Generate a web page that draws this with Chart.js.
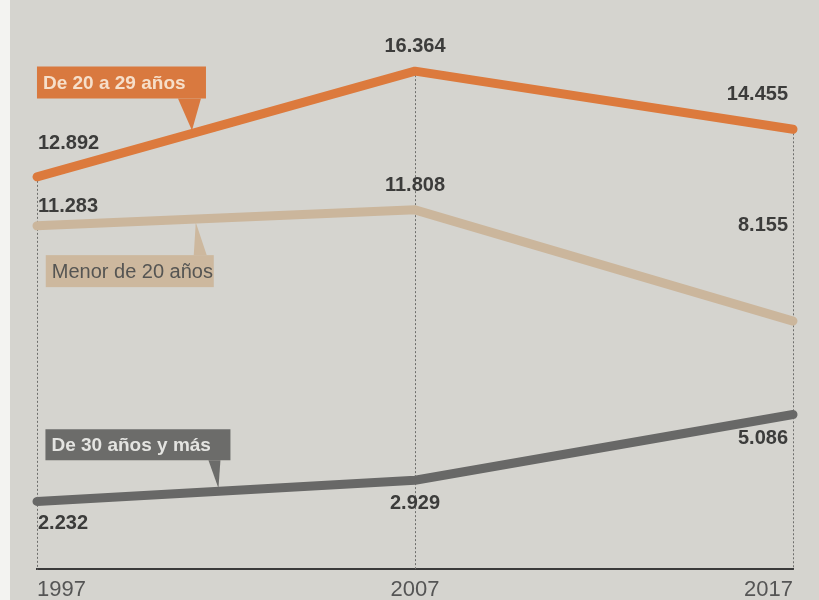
<!DOCTYPE html>
<html>
<head>
<meta charset="utf-8">
<script src="https://cdn.jsdelivr.net/npm/chart.js@4.4.1/dist/chart.umd.min.js"></script>
<style>
  html, body { margin: 0; padding: 0; background: #d5d4cf; overflow: hidden; }
  #wrap { width: 819px; height: 600px; position: relative; }
</style>
</head>
<body>
<div id="wrap"><canvas id="chart"></canvas></div>
<script>
// datos
const years = ['1997', '2007', '2017'];
const de20a29 = [12892, 16364, 14455];
const menor20 = [11283, 11808, 8155];
const de30mas = [2232, 2929, 5086];
const seriesNames = ['De 20 a 29 años', 'Menor de 20 años', 'De 30 años y más'];

const fmt = v => String(v).replace(/\B(?=(\d{3})+(?!\d))/g, '.');
const FONT = '"Liberation Sans", Arial, sans-serif';

// fondo de papel
const paper = {
  id: 'paper',
  beforeDraw(chart) {
    const ctx = chart.ctx;
    ctx.save();
    ctx.fillStyle = '#d5d4cf';
    ctx.fillRect(0, 0, chart.width, chart.height);
    ctx.fillStyle = '#f3f3f1';
    ctx.fillRect(0, 0, 10, chart.height);
    ctx.restore();
  }
};

// líneas punteadas verticales desde el punto más alto hasta el eje
const dotted = {
  id: 'dotted',
  beforeDatasetsDraw(chart) {
    const ctx = chart.ctx, x = chart.scales.x, y = chart.scales.y;
    ctx.save();
    ctx.strokeStyle = '#6e6e6c';
    ctx.lineWidth = 1;
    ctx.setLineDash([2, 2]);
    years.forEach((_, i) => {
      const top = Math.max(...chart.data.datasets.map(d => d.data[i]));
      const px = x.getPixelForValue(i);
      ctx.beginPath();
      ctx.moveTo(px + 0.5, y.getPixelForValue(top));
      ctx.lineTo(px + 0.5, chart.chartArea.bottom);
      ctx.stroke();
    });
    ctx.restore();
  }
};

// etiquetas de valores
const valueOffsets = [[-33, -25, -35], [-19, -24, -96], [22, 23, 24]];
const valueLabels = {
  id: 'valueLabels',
  afterDatasetsDraw(chart) {
    const ctx = chart.ctx;
    ctx.save();
    ctx.font = 'bold 20px ' + FONT;
    ctx.fillStyle = '#3c3c3b';
    ctx.textBaseline = 'middle';
    chart.data.datasets.forEach((ds, di) => {
      chart.getDatasetMeta(di).data.forEach((pt, i) => {
        let px = pt.x;
        if (i === 0) { ctx.textAlign = 'left'; px += 1; }
        else if (i === 1) { ctx.textAlign = 'center'; }
        else { ctx.textAlign = 'right'; px -= 5; }
        ctx.fillText(fmt(ds.data[i]), px, pt.y + valueOffsets[di][i]);
      });
    });
    ctx.restore();
  }
};

// recuadros con flecha
const callouts = [
  { t: 0.41, bx: -155, by: -67, w: 169, h: 32, bg: '#d9793f', color: '#f6dfca', font: 'bold 19px ', base: [-14, 9], dir: -1 },
  { t: 0.42, bx: -150, by: 36, w: 168, h: 32, bg: '#cdb89e', color: '#555553', font: '20px ', base: [-2, 11], dir: 1 },
  { t: 0.48, bx: -173, by: -62, w: 185, h: 31, bg: '#6c6c6a', color: '#e4e4e1', font: 'bold 19px ', base: [-10, 2], dir: -1 }
];
const calloutPlugin = {
  id: 'callouts',
  afterDatasetsDraw(chart) {
    const ctx = chart.ctx;
    ctx.save();
    callouts.forEach((c, di) => {
      const pts = chart.getDatasetMeta(di).data;
      const tx = pts[0].x + (pts[1].x - pts[0].x) * c.t;
      const ty = pts[0].y + (pts[1].y - pts[0].y) * c.t;
      const left = tx + c.bx, top = ty + c.by;
      const edge = c.dir < 0 ? top + c.h : top;
      ctx.fillStyle = c.bg;
      ctx.fillRect(left, top, c.w, c.h);
      ctx.beginPath();
      ctx.moveTo(tx + c.base[0], edge);
      ctx.lineTo(tx, ty + (c.dir < 0 ? -3 : 3));
      ctx.lineTo(tx + c.base[1], edge);
      ctx.closePath();
      ctx.fill();
      ctx.font = c.font + FONT;
      ctx.fillStyle = c.color;
      ctx.textAlign = 'left';
      ctx.textBaseline = 'middle';
      ctx.fillText(seriesNames[di], left + 6, top + c.h / 2 + 1);
    });
    ctx.restore();
  }
};

new Chart(document.getElementById('chart'), {
  type: 'line',
  data: {
    labels: years,
    datasets: [
      { label: seriesNames[0], data: de20a29, borderColor: '#dc7a3d' },
      { label: seriesNames[1], data: menor20, borderColor: '#cbb69c' },
      { label: seriesNames[2], data: de30mas, borderColor: '#686867' }
    ].map(d => Object.assign(d, {
      borderWidth: 9, borderCapStyle: 'round', borderJoinStyle: 'round',
      pointRadius: 0, tension: 0, fill: false, clip: false
    }))
  },
  options: {
    responsive: true,
    maintainAspectRatio: false,
    animation: false,
    layout: { padding: { left: 37, right: 26, top: 0, bottom: -10 } },
    plugins: { legend: { display: false }, tooltip: { enabled: false } },
    scales: {
      x: {
        offset: false,
        grid: { display: false, drawTicks: false },
        border: { color: '#3a3a3a', width: 2 },
        ticks: { align: 'inner', maxRotation: 0, padding: 10, color: '#555', font: { size: 22, family: FONT, lineHeight: 0.936 } }
      },
      y: { display: false, min: 0, max: 18700 }
    }
  },
  plugins: [paper, dotted, valueLabels, calloutPlugin]
});
</script>
</body>
</html>
